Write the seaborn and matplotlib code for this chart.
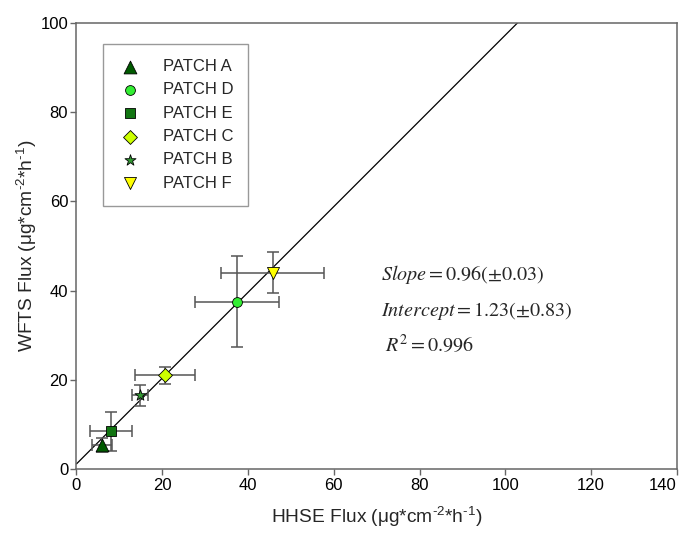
import matplotlib
matplotlib.use("Agg")
import matplotlib.pyplot as plt
import seaborn as sns

# Patch data (HHSE vs WFTS flux, with standard deviations)
patches = ["PATCH A", "PATCH D", "PATCH E", "PATCH C", "PATCH B", "PATCH F"]
hhse = [5.9, 37.4, 8.0, 20.6, 14.8, 45.8]
hhse_err = [2.3, 9.8, 4.9, 7.0, 1.8, 12.0]
wfts = [5.5, 37.5, 8.5, 21.1, 16.6, 44.0]
wfts_err = [1.6, 10.2, 4.3, 1.9, 2.35, 4.6]

markers = ["^", "o", "s", "D", "*", "v"]
colors = ["#005a00", "#33ee33", "#127512", "#ccff00", "#339933", "#ffff00"]
sizes = [85, 50, 55, 50, 70, 75]

# Regression results
slope = 0.96
intercept = 1.23

sns.set_style("ticks")
plt.rcParams["font.family"] = ["Liberation Sans", "DejaVu Sans"]
plt.rcParams["mathtext.fontset"] = "custom"
plt.rcParams["mathtext.rm"] = "Liberation Sans"
plt.rcParams["mathtext.it"] = "Liberation Sans:italic"

fig = plt.figure(figsize=(6.83, 5.34), dpi=100)
ax = fig.add_axes([0.112, 0.121, 0.879, 0.8365])

# Fit line
line_x = [0, 110]
line_y = [intercept + slope * v for v in line_x]
sns.lineplot(x=line_x, y=line_y, color="black", linewidth=0.9, ax=ax, zorder=2)

# Error bars and markers
for i, name in enumerate(patches):
    ax.errorbar(hhse[i], wfts[i], xerr=hhse_err[i], yerr=wfts_err[i], fmt="none",
                ecolor="#555555", elinewidth=1.1, capsize=4.5, capthick=1.1, zorder=3)
    sns.scatterplot(x=[hhse[i]], y=[wfts[i]], marker=markers[i], s=sizes[i],
                    color=colors[i], edgecolor="black", linewidth=0.6,
                    label=name, ax=ax, zorder=4)

ax.set_xlim(0, 140)
ax.set_ylim(0, 100)
ax.set_xticks(range(0, 141, 20))
ax.set_yticks(range(0, 101, 20))

for sp in ax.spines.values():
    sp.set_visible(True)
    sp.set_color("#666666")
    sp.set_linewidth(1.1)
ax.tick_params(direction="out", length=4, width=1.0, color="#666666",
               labelsize=12, labelcolor="black", pad=2)
# last x tick label sits inside the figure
ax.get_xticklabels()[-1].set_horizontalalignment("right")

ax.set_xlabel("HHSE Flux (\u03bcg*cm$^{\\text{-2}}$*h$^{\\text{-1}}$)", fontsize=13.8, labelpad=9)
ax.set_ylabel("WFTS Flux (\u03bcg*cm$^{\\text{-2}}$*h$^{\\text{-1}}$)", fontsize=13.8, labelpad=1)

leg = ax.legend(loc="upper left", bbox_to_anchor=(0.044, 0.952), fontsize=12,
                frameon=True, fancybox=False, edgecolor="#808080",
                handletextpad=1.2, labelspacing=0.5, borderpad=0.9,
                borderaxespad=0, handlelength=1.5)
leg.get_frame().set_linewidth(1.0)

# Regression statistics
ax.text(71, 41.0, r"$\mathit{Slope} = 0.96(\pm0.03)$", fontsize=14.5,
        math_fontfamily="stix", va="bottom")
ax.text(71, 32.9, r"$\mathit{Intercept} = 1.23(\pm0.83)$", fontsize=14.5,
        math_fontfamily="stix", va="bottom")
ax.text(72, 25.3, r"$R^2 = 0.996$", fontsize=14.5,
        math_fontfamily="stix", va="bottom")

fig.savefig("out.png", dpi=100)
